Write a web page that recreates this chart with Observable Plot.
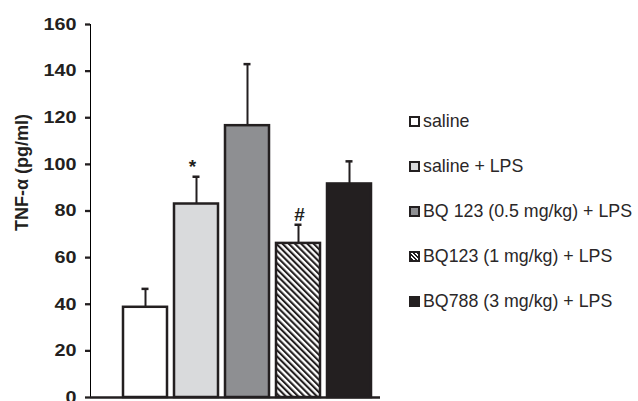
<!DOCTYPE html>
<html>
<head>
<meta charset="utf-8">
<script src="https://cdn.jsdelivr.net/npm/d3@7"></script>
<script src="https://cdn.jsdelivr.net/npm/@observablehq/plot@0.6"></script>
<style>
  body { margin: 0; background: #fff; }
  #wrap { position: relative; width: 638px; height: 401px; font-family: "Liberation Sans", Arial, sans-serif; }
  #legend { position: absolute; left: 409px; top: 99px; }
  .item { display: flex; align-items: center; height: 45px; font-size: 17.8px; color: #2a2728; }
  .sw { width: 7px; height: 7px; border: 2px solid #231f20; margin-right: 3px; flex: none; }
  svg text { font-family: "Liberation Sans", Arial, sans-serif; }
</style>
</head>
<body>
<div id="wrap"></div>
<script>
const groups = ["saline", "saline + LPS", "BQ 123 (0.5 mg/kg) + LPS", "BQ123 (1 mg/kg) + LPS", "BQ788 (3 mg/kg) + LPS"];
const means = [38.7, 83.0, 116.6, 66.1, 91.6];
const errors = [7.9, 11.7, 26.4, 8.0, 9.7];
const signif = ["", "*", "", "#", ""];
const yTicks = [0, 20, 40, 60, 80, 100, 120, 140, 160];
const yLabel = "TNF-α (pg/ml)";
const fills = ["#ffffff", "#d9dadc", "#8e8f92", "url(#hatch)", "#231f20"];
const swatchCss = ["#ffffff", "#d9dadc", "#8e8f92",
  "repeating-linear-gradient(45deg, #231f20 0 1.5px, #fff 1.5px 3px)", "#231f20"];
const sigShift = [0, -4, 0, 1, 0];

const data = groups.map((g, i) => ({group: g, mean: means[i], err: errors[i], top: means[i] + errors[i], sig: signif[i], fill: fills[i], shift: sigShift[i]}));
const sigRows = data.filter(d => d.sig);

const ink = "#231f20";
const plot = Plot.plot({
  width: 638,
  height: 401,
  marginLeft: 90,
  marginRight: 258,
  marginTop: 24,
  marginBottom: 4,
  x: {type: "band", domain: groups, range: [119, 374], paddingInner: 0.147, paddingOuter: 0.0735, axis: null},
  y: {domain: [0, 160], ticks: yTicks, tickSize: 5, tickPadding: 9, line: true, label: null},
  marks: [
    Plot.ruleX(data, {x: "group", y1: "mean", y2: "top", stroke: ink, strokeWidth: 2}),
    Plot.tickY(data, {x: "group", y: "top", stroke: ink, strokeWidth: 2.5, insetLeft: 18.5, insetRight: 18.5}),
    Plot.barY(data, {x: "group", y: "mean", fill: "fill", stroke: ink, strokeWidth: 2.5}),
    Plot.ruleY([0], {stroke: ink, strokeWidth: 2.5}),
    Plot.text(sigRows, {x: "group", y: "top", text: "sig", fontSize: 19, fontWeight: "bold", fill: ink})
  ]
});

const svg = d3.select(plot);
// nudge the significance marks a little above the error cap
svg.selectAll('g[aria-label="text"] text').each(function(d, i) {
  const el = d3.select(this);
  const t = el.attr("transform") || "";
  el.attr("transform", t + ` translate(${sigRows[i].shift},-10)`);
});

// hatch pattern
const defs = svg.insert("defs", ":first-child");
const pat = defs.append("pattern").attr("id", "hatch").attr("patternUnits", "userSpaceOnUse")
  .attr("width", 4.4).attr("height", 4.4).attr("patternTransform", "rotate(-45)");
pat.append("rect").attr("width", 4.4).attr("height", 4.4).attr("fill", "#fff");
pat.append("rect").attr("width", 2.1).attr("height", 4.4).attr("fill", ink);

// axis styling
svg.selectAll('g[aria-label^="y-axis"]').each(function() {
  const g = d3.select(this);
  const lab = g.attr("aria-label");
  if (lab.includes("label")) {
    g.attr("font-size", 16.5).attr("font-weight", "bold").attr("fill", ink);
    g.selectAll("text").each(function() {
      const s = d3.select(this);
      s.attr("font-size", 16.5).attr("font-weight", "bold").attr("fill", ink)
        .attr("textLength", 11 * s.text().length).attr("lengthAdjust", "spacingAndGlyphs");
    });
  } else {
    g.attr("stroke", ink).attr("stroke-width", 2.3);
    g.selectAll("path, line").attr("stroke", ink).attr("stroke-width", 2.3);
  }
});

// y-axis title
const yr = plot.scale("y").range;
svg.append("text")
  .attr("transform", `translate(21,${(yr[0] + yr[1]) / 2 - 38}) rotate(-90)`)
  .attr("text-anchor", "middle")
  .attr("dominant-baseline", "central")
  .attr("font-size", 19)
  .attr("font-weight", "bold")
  .attr("fill", ink)
  .attr("textLength", 117)
  .attr("lengthAdjust", "spacingAndGlyphs")
  .text(yLabel);

const wrap = document.getElementById("wrap");
wrap.appendChild(plot);

const legend = document.createElement("div");
legend.id = "legend";
groups.forEach((g, i) => {
  const it = document.createElement("div");
  it.className = "item";
  const sw = document.createElement("span");
  sw.className = "sw";
  sw.style.background = swatchCss[i];
  const t = document.createElement("span");
  t.textContent = g;
  it.appendChild(sw); it.appendChild(t);
  legend.appendChild(it);
});
wrap.appendChild(legend);
</script>
</body>
</html>
